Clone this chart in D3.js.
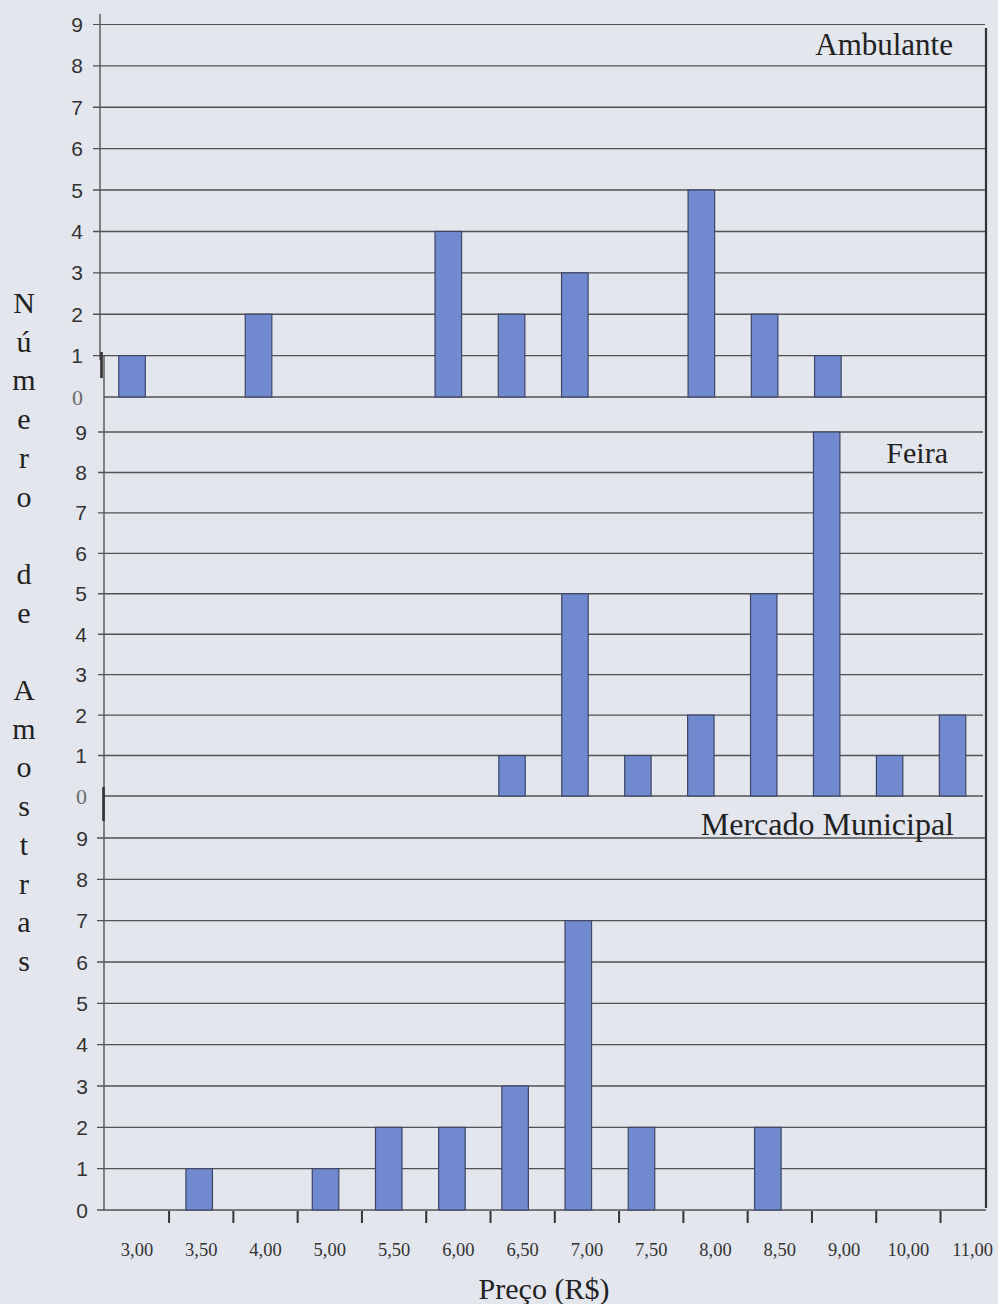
<!DOCTYPE html>
<html>
<head>
<meta charset="utf-8">
<script src="https://cdn.jsdelivr.net/npm/d3@7"></script>
<style>
  html, body { margin: 0; padding: 0; background: #e4e6ee; }
  svg { display: block; }
</style>
</head>
<body>
<svg id="chart" width="998" height="1304"></svg>
<script>
// Price classes (R$) shared by the three panels
const categories = ["3,00","3,50","4,00","5,00","5,50","6,00","6,50","7,00","7,50","8,00","8,50","9,00","10,00","11,00"];

// Number of samples per price class
const ambulante = [1, 0, 2, 0, 0, 4, 2, 3, 0, 5, 2, 1, 0, 0];
const feira     = [0, 0, 0, 0, 0, 0, 1, 5, 1, 2, 5, 9, 1, 2];
const mercado   = [0, 1, 0, 1, 2, 2, 3, 7, 2, 0, 2, 0, 0, 0];

const yTicks = [0, 1, 2, 3, 4, 5, 6, 7, 8, 9];
const panelNames = ["Ambulante", "Feira", "Mercado Municipal"];
const yTitle = "Número de Amostras";
const xTitle = "Preço (R$)";

const SERIF = "'Liberation Serif', 'Times New Roman', serif";
const SANS = "'Liberation Sans', Arial, sans-serif";
const GRID = "#525252";
const BAR_FILL = "#7189cf";
const BAR_STROKE = "#3e4666";

const svg = d3.select("#chart");

// Frame geometry of each panel
const panels = [
  { name: panelNames[0], values: ambulante, x0: 100.4, x1: 986, yTop: 24.5, yBottom: 397,
    axisTop: 14, axisBottom: 360, gridEnd: 985, tickLeft: 93, labelRight: 83,
    serifZero: true, titleRight: 953, titleBase: 54.5, titleSize: 31 },
  { name: panelNames[1], values: feira, x0: 103, x1: 984, yTop: 432, yBottom: 796,
    axisTop: 356, axisBottom: 800, gridEnd: 983, tickLeft: 98, labelRight: 87,
    serifZero: true, titleRight: 948, titleBase: 463, titleSize: 30 },
  { name: panelNames[2], values: mercado, x0: 104.4, x1: 989, yTop: 838, yBottom: 1210,
    axisTop: 800, axisBottom: 1210, gridEnd: 986, tickLeft: 97, labelRight: 88,
    serifZero: false, titleRight: 954, titleBase: 835, titleSize: 32 }
];

panels.forEach(p => {
  const g = svg.append("g");
  const x = d3.scaleBand().domain(categories).range([p.x0, p.x1])
    .paddingInner(0.58).paddingOuter(0.29);
  const y = d3.scaleLinear().domain([0, 9]).range([p.yBottom, p.yTop]);
  const axisX = p.x0 < 102 ? 100 : 104;

  // horizontal gridlines with small ticks on the left
  yTicks.forEach(t => {
    const yy = y(t);
    const zeroSerif = (t === 0 && p.serifZero);
    g.append("line")
      .attr("x1", zeroSerif ? 104 : p.tickLeft).attr("x2", p.gridEnd)
      .attr("y1", yy).attr("y2", yy)
      .attr("stroke", GRID).attr("stroke-width", t === 9 && p.name === "Ambulante" ? 1 : 1.4);
    g.append("text")
      .attr("x", p.labelRight).attr("y", yy + 7.5)
      .attr("text-anchor", "end")
      .attr("font-family", zeroSerif ? SERIF : SANS)
      .attr("font-size", zeroSerif ? 22 : 21)
      .attr("fill", zeroSerif ? "#6a6a6a" : "#333")
      .text(t);
  });

  // vertical axis line
  g.append("line")
    .attr("x1", axisX).attr("x2", axisX)
    .attr("y1", p.axisTop).attr("y2", p.axisBottom)
    .attr("stroke", "#555").attr("stroke-width", 1.4);

  // bars
  g.selectAll("rect.bar")
    .data(categories.map((c, i) => ({ c, v: p.values[i] })).filter(d => d.v > 0))
    .join("rect")
    .attr("class", "bar")
    .attr("x", d => x(d.c))
    .attr("width", x.bandwidth())
    .attr("y", d => y(d.v))
    .attr("height", d => y(0) - y(d.v))
    .attr("fill", BAR_FILL)
    .attr("stroke", BAR_STROKE)
    .attr("stroke-width", 1.2);

  // panel name
  g.append("text")
    .attr("x", p.titleRight).attr("y", p.titleBase)
    .attr("text-anchor", "end")
    .attr("font-family", SERIF)
    .attr("font-size", p.titleSize)
    .attr("fill", "#222")
    .text(p.name);
});

// short heavy marks where the stacked frames join
[[101.5, 352, 378], [103.5, 787, 821]].forEach(([mx, a, b]) => {
  svg.append("line").attr("x1", mx).attr("x2", mx).attr("y1", a).attr("y2", b)
    .attr("stroke", "#333").attr("stroke-width", 2.6);
});

// right border
svg.append("line").attr("x1", 986).attr("x2", 986).attr("y1", 28).attr("y2", 1208)
  .attr("stroke", "#333").attr("stroke-width", 2.2);

// shared price axis at the bottom
const xAxis = d3.scaleBand().domain(categories).range([104.8, 1004.8]);
categories.slice(1).forEach(c => {
  const tx = xAxis(c);
  svg.append("line").attr("x1", tx).attr("x2", tx).attr("y1", 1211).attr("y2", 1223)
    .attr("stroke", "#333").attr("stroke-width", 2);
});
svg.append("g").selectAll("text")
  .data(categories)
  .join("text")
  .attr("x", d => xAxis(d) + xAxis.bandwidth() / 2)
  .attr("y", 1256)
  .attr("text-anchor", "middle")
  .attr("font-family", SERIF)
  .attr("font-size", 18.5)
  .attr("fill", "#333")
  .text(d => d);

svg.append("text")
  .attr("x", 544).attr("y", 1299)
  .attr("text-anchor", "middle")
  .attr("font-family", SERIF)
  .attr("font-size", 30)
  .attr("fill", "#222")
  .text(xTitle);

// vertical title, one character per line
svg.append("g").selectAll("text")
  .data(Array.from(yTitle))
  .join("text")
  .attr("x", 24)
  .attr("y", (d, i) => 313 + i * 38.7)
  .attr("text-anchor", "middle")
  .attr("font-family", SERIF)
  .attr("font-size", 30)
  .attr("fill", "#222")
  .text(d => d === " " ? "" : d);
</script>
</body>
</html>
